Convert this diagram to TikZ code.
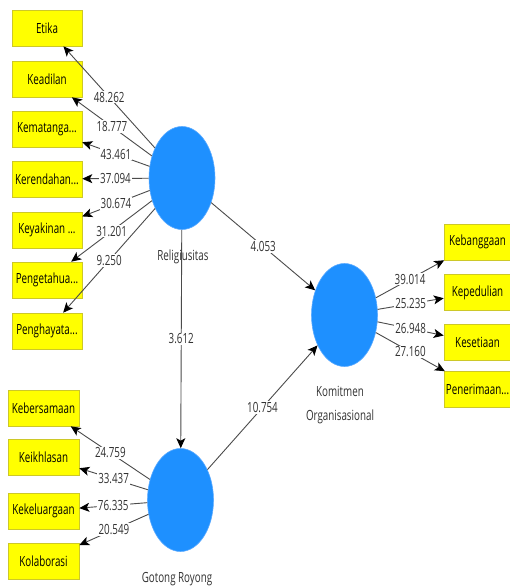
\documentclass[tikz,border=0pt]{standalone}
\usepackage{fontspec}
\setmainfont[FakeStretch=0.7]{Open Sans}
\usetikzlibrary{shapes.geometric,arrows.meta}
\definecolor{boxy}{RGB}{255,255,0}
\definecolor{boxline}{RGB}{205,200,40}
\definecolor{circfill}{RGB}{30,144,255}
\definecolor{circline}{RGB}{90,170,255}
\definecolor{lineg}{RGB}{75,75,75}
\definecolor{txtg}{RGB}{50,50,50}
\tikzset{
  ind/.style={rectangle, fill=boxy, draw=boxline, line width=0.6pt, minimum width=70pt, minimum height=36pt, inner sep=0pt, font=\fontsize{14}{18}\selectfont, text=black},
  lv/.style={ellipse, fill=circfill, draw=circline, line width=0.6pt, minimum width=66pt, minimum height=103pt, inner sep=0pt},
  lvname/.style={font=\fontsize{14}{24}\selectfont, text=txtg, align=center},
  wt/.style={fill=white, inner sep=1pt, font=\fontsize{14}{18}\selectfont, text=txtg},
  arr/.style={draw=lineg, line width=0.9pt, -{Stealth[length=10pt,width=9pt,inset=2.5pt,color=black]}}
}
\begin{document}
\begin{tikzpicture}[x=1pt,y=-1pt]
\useasboundingbox[fill=white] (0,0) rectangle (510,587);
% latent variables
\node[lv] (rel) at (182,178) {};
\node[lv] (kom) at (344.5,315) {};
\node[lv] (gr) at (180.5,500) {};
\node[lvname] (relname) at (183,257) {Religiusitas};
\node[lvname] (komname) at (340,405) {Komitmen\\Organisasional};
\node[lvname] (grname) at (177,579) {Gotong Royong};
% indicators Religiusitas
\node[ind] (etika) at (47,28) {Etika};
\node[ind] (keadilan) at (47,79) {Keadilan};
\node[ind] (kematangan) at (47,129.5) {Kematanga...};
\node[ind] (kerendahan) at (47,179) {Kerendahan...};
\node[ind] (keyakinan) at (47,230) {Keyakinan ...};
\node[ind] (pengetahuan) at (47,280) {Pengetahua...};
\node[ind] (penghayatan) at (47,331) {Penghayata...};
% indicators Gotong Royong
\node[ind, minimum width=71pt] (kebersamaan) at (43.5,408) {Kebersamaan};
\node[ind, minimum width=71pt] (keikhlasan) at (43.5,457) {Keikhlasan};
\node[ind, minimum width=71pt] (kekeluargaan) at (43.5,511) {Kekeluargaan};
\node[ind, minimum width=71pt] (kolaborasi) at (43.5,561) {Kolaborasi};
% indicators Komitmen
\node[ind, minimum width=67pt] (kebanggaan) at (477.5,242) {Kebanggaan};
\node[ind, minimum width=67pt] (kepedulian) at (477.5,292.5) {Kepedulian};
\node[ind, minimum width=67pt] (kesetiaan) at (477.5,342.5) {Kesetiaan};
\node[ind, minimum width=67pt] (penerimaan) at (477.5,389.5) {Penerimaan...};
% outer loadings Religiusitas
\draw[arr] (rel) -- node[wt]{48.262} (etika);
\draw[arr] (rel) -- node[wt]{18.777} (keadilan);
\draw[arr] (rel) -- node[wt]{43.461} (kematangan);
\draw[arr] (rel) -- node[wt]{37.094} (kerendahan);
\draw[arr] (rel) -- node[wt]{30.674} (keyakinan);
\draw[arr] (rel) -- node[wt]{31.201} (pengetahuan);
\draw[arr] (rel) -- node[wt]{9.250} (penghayatan);
% outer loadings Gotong Royong
\draw[arr] (gr) -- node[wt]{24.759} (kebersamaan);
\draw[arr] (gr) -- node[wt]{33.437} (keikhlasan);
\draw[arr] (gr) -- node[wt]{76.335} (kekeluargaan);
\draw[arr] (gr) -- node[wt]{20.549} (kolaborasi);
% outer loadings Komitmen
\draw[arr] (kom) -- node[wt]{39.014} (kebanggaan);
\draw[arr] (kom) -- node[wt]{25.235} (kepedulian);
\draw[arr] (kom) -- node[wt]{26.948} (kesetiaan);
\draw[arr] (kom) -- node[wt]{27.160} (penerimaan);
% structural paths
\draw[arr] (rel) -- node[wt]{4.053} (kom);
\draw[arr] (rel) -- node[wt]{3.612} (gr);
\draw[arr] (gr) -- node[wt]{10.754} (kom);
\end{tikzpicture}
\end{document}
